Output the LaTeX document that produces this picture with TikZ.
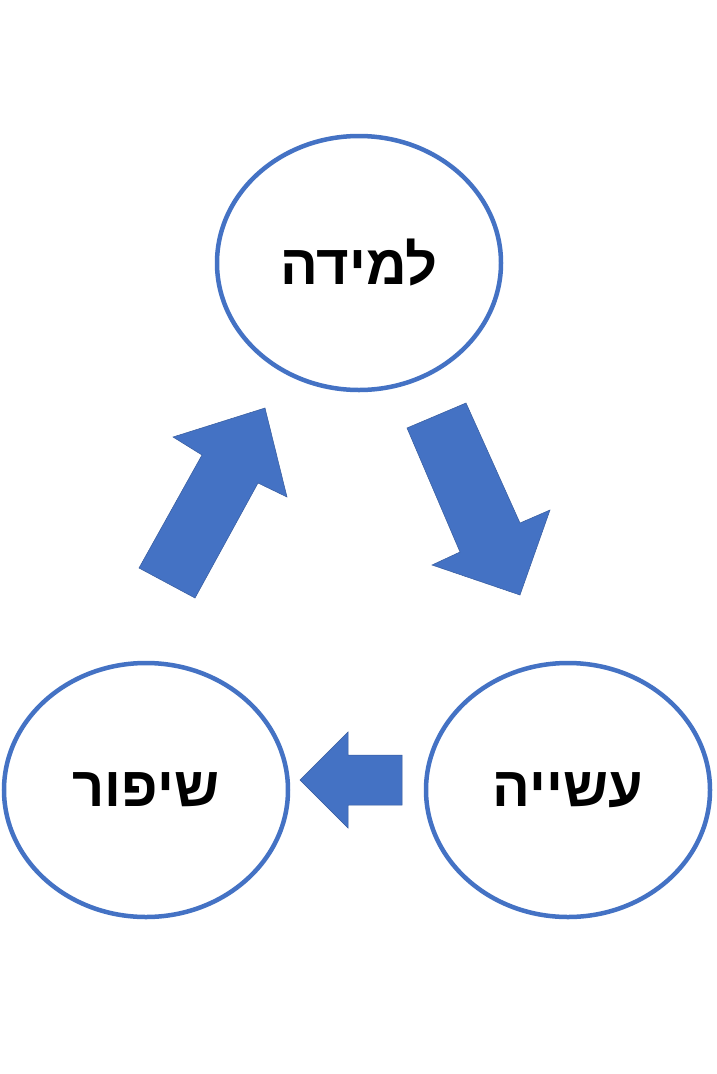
\documentclass[tikz,border=0pt]{standalone}
\usepackage{fontspec}
\setmainfont{Liberation Sans}
\newfontfamily\hebfont[Script=Hebrew]{Liberation Sans}
\TeXXeTstate=1
\usetikzlibrary{shapes.geometric}
\definecolor{ablue}{HTML}{4472C4}
\tikzset{
  circ/.style={ellipse,draw=ablue,line width=4.5pt,fill=white,minimum width=284pt,minimum height=254pt,inner sep=0pt,font=\hebfont\bfseries\fontsize{56}{62}\selectfont},
  barrow/.style={fill=ablue,draw=ablue!80!black,line width=0.5pt}
}
\begin{document}
\begin{tikzpicture}[x=1pt,y=-1pt]
\useasboundingbox[fill=white] (0,0) rectangle (716,1074);
\node[circ] (learn) at (359,263) {\beginR למידה\endR};
\node[circ] (do) at (568,790) {\beginR עשייה\endR};
\node[circ] (improve) at (146,790) {\beginR שיפור\endR};
% down-right arrow
\draw[barrow] (407,428) -- (466,403) -- (520,523) -- (550,510) -- (520,595) -- (432,565) -- (460,552) -- cycle;
% left arrow
\draw[barrow] (402,755) -- (348,755) -- (348,732) -- (300,780) -- (348,828) -- (348,805) -- (402,805) -- cycle;
% up-left arrow
\draw[barrow] (195,598) -- (139,568) -- (202,455) -- (173,437) -- (265,408) -- (287,497) -- (258,483) -- cycle;
\end{tikzpicture}
\end{document}
